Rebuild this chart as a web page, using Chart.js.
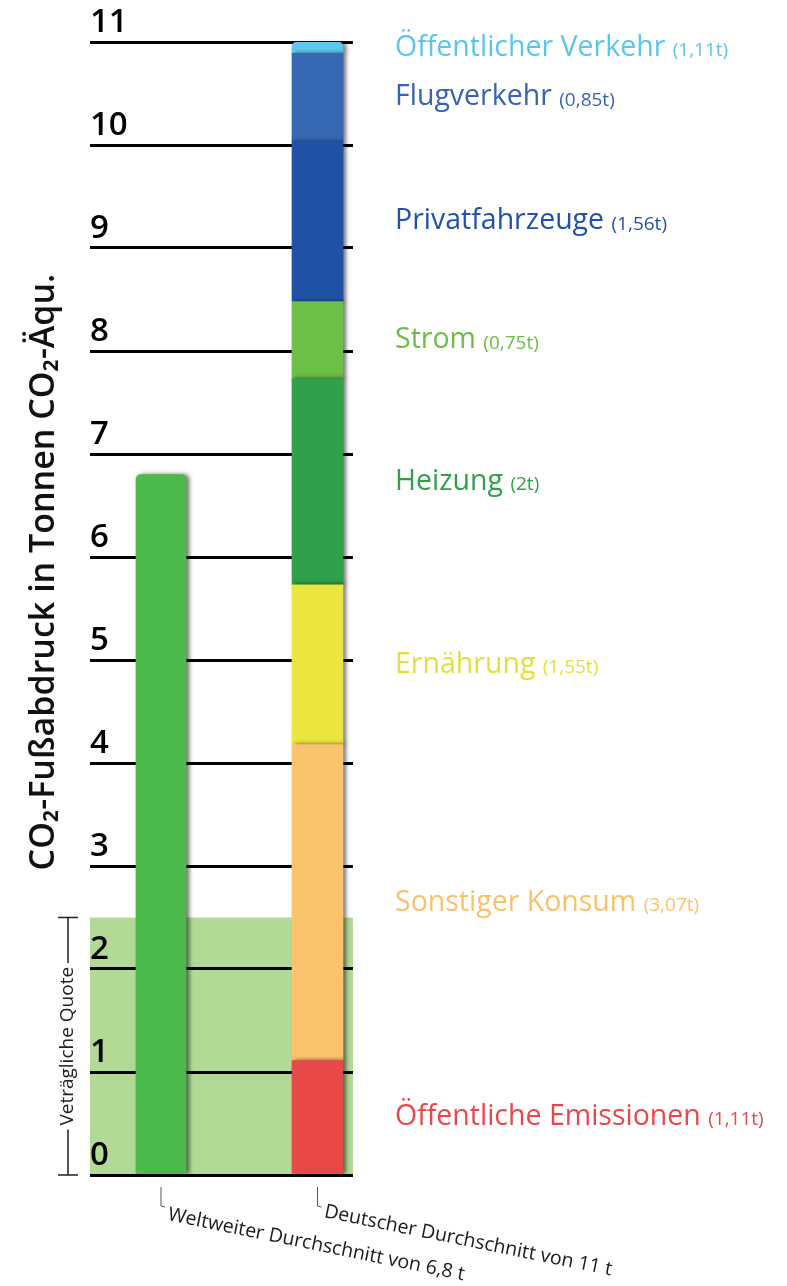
<!DOCTYPE html>
<html>
<head>
<meta charset="utf-8">
<script src="https://cdn.jsdelivr.net/npm/chart.js@4.4.1/dist/chart.umd.min.js"></script>
<style>
  html, body { margin: 0; padding: 0; background: #fff; }
  #wrap { width: 787px; height: 1286px; position: relative; }
</style>
</head>
<body>
<div id="wrap"><canvas id="co2Chart"></canvas></div>
<script>
// columns (0 = world, 1 = germany)
const columnLabels = ["Weltweiter Durchschnitt von 6,8 t", "Deutscher Durchschnitt von 11 t"];
const worldAverage = 6.8;
const quota = 2.5;

// german stack, bottom to top
const segmentNames = [
  "Öffentliche Emissionen", "Sonstiger Konsum", "Ernährung", "Heizung",
  "Strom", "Privatfahrzeuge", "Flugverkehr", "Öffentlicher Verkehr"
];
const segmentValues = [1.11, 3.07, 1.55, 2, 0.75, 1.56, 0.85, 0.11];
const segmentNotes = ["(1,11t)", "(3,07t)", "(1,55t)", "(2t)", "(0,75t)", "(1,56t)", "(0,85t)", "(1,11t)"];
const segmentColors = ["#e94848", "#fbc46c", "#ebe63f", "#30a04a", "#6cbf47", "#1f52a5", "#3668b3", "#5ec8ef"];
const labelColors = ["#e9484a", "#f9c26a", "#e4df3a", "#31a04a", "#6cbd45", "#2252a6", "#3564b2", "#5bc5ec"];

const yTicks = [0, 1, 2, 3, 4, 5, 6, 7, 8, 9, 10, 11];
const yTitle = "CO₂-Fußabdruck in Tonnen CO₂-Äqu.";
const quotaLabel = "Veträgliche Quote";

const FONT = "'Open Sans', sans-serif";

const datasets = [
  {
    label: columnLabels[0],
    data: [{ x: 0, y: worldAverage }],
    backgroundColor: "#4cb94b",
    borderSkipped: false,
    borderRadius: { topLeft: 5, topRight: 5, bottomLeft: 0, bottomRight: 0 },
    barThickness: 50,
  },
];
segmentValues.forEach((v, i) => {
  datasets.push({
    label: segmentNames[i],
    data: [{ x: 1, y: v }],
    backgroundColor: segmentColors[i],
    borderSkipped: false,
    borderRadius: i === segmentValues.length - 1
      ? { topLeft: 5, topRight: 5, bottomLeft: 0, bottomRight: 0 } : 0,
    barThickness: 51,
  });
});

const bandPlugin = {
  id: "band",
  beforeDraw(chart) {
    const { ctx, chartArea, scales } = chart;
    ctx.save();
    ctx.fillStyle = "#fff";
    ctx.fillRect(0, 0, chart.width, chart.height);
    const top = scales.y.getPixelForValue(quota);
    const bottom = scales.y.getPixelForValue(0);
    ctx.fillStyle = "#b3d997";
    ctx.fillRect(chartArea.left, top, chartArea.right - chartArea.left, bottom - top);
    ctx.restore();
  },
};

const shadowPlugin = {
  id: "shadow",
  beforeDatasetsDraw(chart) {
    const ctx = chart.ctx;
    ctx.save();
    ctx.shadowColor = "rgba(0,0,0,0.55)";
    ctx.shadowBlur = 4;
    ctx.shadowOffsetX = 3;
    ctx.shadowOffsetY = 0;
  },
  afterDatasetsDraw(chart) {
    chart.ctx.restore();
  },
};

const textPlugin = {
  id: "texts",
  afterDraw(chart) {
    const { ctx, scales } = chart;
    ctx.save();

    // segment labels on the right
    ctx.textBaseline = "middle";
    ctx.textAlign = "left";
    segmentNames.forEach((name, i) => {
      const el = chart.getDatasetMeta(i + 1).data[0];
      const mid = (el.y + el.base) / 2;
      ctx.fillStyle = labelColors[i];
      ctx.font = "28.5px " + FONT;
      ctx.fillText(name, 395, mid);
      const w = ctx.measureText(name + " ").width;
      ctx.font = "19px " + FONT;
      ctx.fillText(segmentNotes[i], 395 + w, mid + 3);
    });

    // y title
    ctx.save();
    ctx.translate(44, 572);
    ctx.rotate(-Math.PI / 2);
    ctx.textAlign = "center";
    ctx.fillStyle = "#111";
    ctx.font = "600 34px " + FONT;
    ctx.fillText(yTitle, 0, 0);
    ctx.restore();

    // quota bracket
    const qTop = scales.y.getPixelForValue(quota);
    const qBot = scales.y.getPixelForValue(0);
    const qMid = (qTop + qBot) / 2;
    ctx.font = "19px " + FONT;
    const tw = ctx.measureText(quotaLabel).width;
    ctx.strokeStyle = "#222";
    ctx.lineWidth = 1.5;
    ctx.beginPath();
    ctx.moveTo(58, qTop); ctx.lineTo(78, qTop);
    ctx.moveTo(68, qTop); ctx.lineTo(68, qMid - tw / 2 - 4);
    ctx.moveTo(68, qMid + tw / 2 + 4); ctx.lineTo(68, qBot);
    ctx.moveTo(58, qBot); ctx.lineTo(78, qBot);
    ctx.stroke();
    ctx.save();
    ctx.translate(68, qMid);
    ctx.rotate(-Math.PI / 2);
    ctx.textAlign = "center";
    ctx.fillStyle = "#222";
    ctx.fillText(quotaLabel, 0, 0);
    ctx.restore();

    // column labels, slanted
    [0, 1].forEach((col) => {
      const cx = scales.x.getPixelForValue(col);
      ctx.strokeStyle = "#555";
      ctx.lineWidth = 1;
      ctx.beginPath();
      ctx.moveTo(cx, 1187);
      ctx.lineTo(cx, 1206);
      ctx.lineTo(cx + 4, 1207);
      ctx.stroke();
      ctx.save();
      ctx.translate(cx + 9, col === 0 ? 1205 : 1202);
      ctx.rotate(11.5 * Math.PI / 180);
      ctx.textAlign = "left";
      ctx.textBaseline = "top";
      ctx.fillStyle = "#1a1a1a";
      ctx.font = "19.5px " + FONT;
      ctx.fillText(columnLabels[col], 0, 0);
      ctx.restore();
    });

    ctx.restore();
  },
};

const chart = new Chart(document.getElementById("co2Chart").getContext("2d"), {
  type: "bar",
  data: { datasets: datasets },
  options: {
    responsive: true,
    maintainAspectRatio: false,
    animation: false,
    layout: {
      padding: { top: 42, right: 434, bottom: 111, left: 90 },
    },
    plugins: {
      legend: { display: false },
      tooltip: { enabled: false },
      title: { display: false },
    },
    scales: {
      x: {
        type: "linear",
        stacked: true,
        offset: false,
        min: -0.4537,
        max: 1.2268,
        display: false,
      },
      y: {
        stacked: true,
        min: 0,
        max: 11,
        afterBuildTicks(axis) {
          axis.ticks = yTicks.map((v) => ({ value: v }));
        },
        border: { display: false },
        grid: { color: "#000", lineWidth: 3, drawTicks: false },
        ticks: {
          mirror: true,
          padding: 0,
          labelOffset: -19,
          color: "#000",
          font: { family: "'Open Sans'", size: 33, weight: "600" },
        },
      },
    },
  },
  plugins: [bandPlugin, shadowPlugin, textPlugin],
});
</script>
</body>
</html>
